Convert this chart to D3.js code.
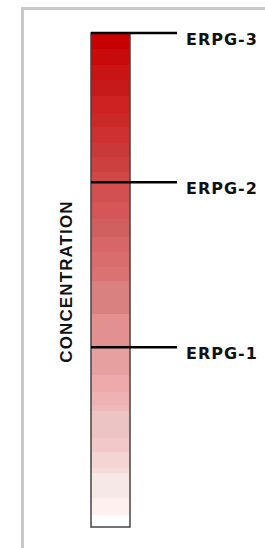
<!DOCTYPE html>
<html>
<head>
<meta charset="utf-8">
<script src="https://cdn.jsdelivr.net/npm/d3@7"></script>
<style>
  html, body { margin: 0; padding: 0; background: #fff; }
  svg { display: block; }
</style>
</head>
<body>
<div id="chart"></div>
<script>
// band edges in concentration units (top = 100, bottom = 0)
const bandEdges = [100, 96.8, 93.5, 90.5, 87.2, 83.8, 81.0, 77.7, 74.9, 71.9,
                   69.8, 65.8, 62.3, 58.7, 55.7, 52.6, 49.8, 43.1,
                   36.4, 30.8, 27.3, 24.7, 23.5, 18.0, 15.2, 11.9, 10.9, 5.9, 2.4, 0];
const bandColors = ["#c80000", "#c80a0a", "#c81414", "#c61a1a", "#ce2222", "#cd2828",
                    "#cc3030", "#cb3838", "#cc4040", "#d04848",
                    "#d45050", "#d45656", "#d06060", "#d86666", "#d96c6c", "#da7272",
                    "#d98080", "#e39090",
                    "#e6a0a0", "#eeaaaa", "#eeb2b2", "#ecb8b8", "#ecc4c4", "#f2c8c8",
                    "#f5d4d4", "#f5dcdc", "#f7e8e8", "#fff0f0", "#ffffff"];
const levelNames = ["ERPG-3", "ERPG-2", "ERPG-1"];
const levelValues = [100, 69.8, 36.4];
const axisTitle = "CONCENTRATION";

const width = 265, height = 548;
const barLeft = 91, barRight = 130;

const svg = d3.select("#chart").append("svg")
    .attr("width", width)
    .attr("height", height);

// frame (top and left only)
svg.append("path")
    .attr("d", `M22.5,${height} V8.5 H${width}`)
    .attr("fill", "none")
    .attr("stroke", "#c8c8c8")
    .attr("stroke-width", 3);

const y = d3.scaleLinear().domain([0, 100]).range([527, 33]);

const bands = d3.range(bandColors.length).map(i => ({
  top : bandEdges[i],
  bottom : bandEdges[i + 1],
  color : bandColors[i]
}));

svg.append("g")
    .attr("shape-rendering", "crispEdges")
    .selectAll("rect")
    .data(bands)
    .join("rect")
    .attr("x", barLeft)
    .attr("width", barRight - barLeft)
    .attr("y", d => Math.round(y(d.top)))
    .attr("height", d => Math.round(y(d.bottom)) - Math.round(y(d.top)))
    .attr("fill", d => d.color);

// bar outline
svg.append("rect")
    .attr("x", barLeft)
    .attr("y", y(100))
    .attr("width", barRight - barLeft)
    .attr("height", y(0) - y(100))
    .attr("fill", "none")
    .attr("stroke", "#444")
    .attr("stroke-width", 1.5);

// threshold lines and labels
const levels = svg.append("g")
    .selectAll("g")
    .data(levelNames.map((n, i) => ({name : n, value : levelValues[i]})))
    .join("g")
    .attr("transform", d => `translate(0,${y(d.value)})`);

levels.append("line")
    .attr("x1", barLeft)
    .attr("x2", 177)
    .attr("stroke", "#000")
    .attr("stroke-width", 2.5);

levels.append("text")
    .attr("x", 186)
    .attr("y", 12)
    .attr("font-family", "DejaVu Sans")
    .attr("font-weight", "bold")
    .attr("font-size", 16)
    .attr("letter-spacing", 1)
    .attr("fill", "#111")
    .text(d => d.name);

// vertical axis title
svg.append("text")
    .attr("transform", "translate(72,281.5) rotate(-90)")
    .attr("text-anchor", "middle")
    .attr("font-family", "Liberation Sans")
    .attr("font-weight", "bold")
    .attr("font-size", 17)
    .attr("letter-spacing", 1.1)
    .attr("fill", "#111")
    .text(axisTitle);
</script>
</body>
</html>
